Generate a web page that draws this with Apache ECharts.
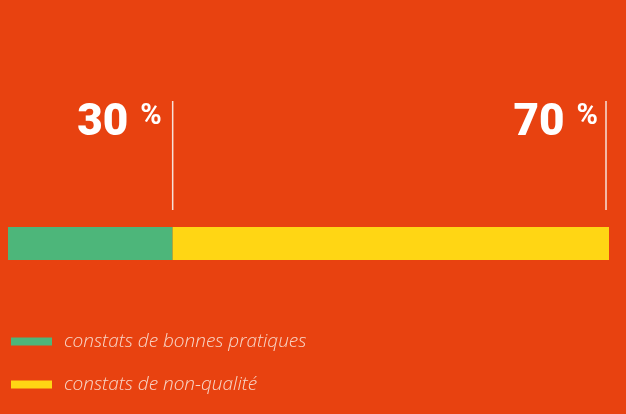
<!DOCTYPE html>
<html>
<head>
<meta charset="utf-8">
<script src="https://cdn.jsdelivr.net/npm/echarts@6/dist/echarts.min.js"></script>
<style>
html,body{margin:0;padding:0;background:#E84210;}
#c{width:626px;height:414px;}
</style>
</head>
<body>
<div id="c"></div>
<script>
const categories = ['constats de bonnes pratiques', 'constats de non-qualité'];
const barValues = [27.4, 72.6];
const labelTexts = ['30', '70'];
const colors = ['#4DB67A', '#FFD614'];

const cumulative = [];
let acc = 0;
for (const v of barValues) { acc += v; cumulative.push(acc); }

const chart = echarts.init(document.getElementById('c'));

const barSeries = categories.map((name, i) => ({
  name: name,
  type: 'bar',
  stack: 'total',
  xAxisIndex: 0,
  yAxisIndex: 0,
  barWidth: '100%',
  itemStyle: { color: colors[i] },
  data: [barValues[i]],
  silent: true
}));

const markerSeries = {
  type: 'custom',
  xAxisIndex: 1,
  yAxisIndex: 1,
  silent: true,
  data: cumulative.map((c, i) => [c, labelTexts[i]]),
  renderItem: function (params, api) {
    const v = api.value(0);
    const txt = labelTexts[params.dataIndex];
    const bottom = api.coord([v, 0]);
    const top = api.coord([v, 1]);
    const cs = params.coordSys;
    const lx = Math.min(bottom[0], cs.x + cs.width - 3);
    return {
      type: 'group',
      children: [
        {
          type: 'line',
          shape: { x1: lx, y1: top[1], x2: lx, y2: bottom[1] },
          style: { stroke: '#F7E1D8', lineWidth: 1.5 }
        },
        {
          type: 'text',
          x: bottom[0] - 11,
          y: top[1] + 23,
          style: {
            text: '{n|' + txt + '}{p|%}',
            align: 'right',
            verticalAlign: 'middle',
            rich: {
              n: { fontFamily: 'Roboto', fontWeight: 900, fontSize: 44, lineHeight: 44, fill: '#FFFFFF' },
              p: { fontFamily: 'Roboto', fontWeight: 'bold', fontSize: 29, lineHeight: 44, fill: '#FFFFFF', verticalAlign: 'top', padding: [0, 0, 0, 12] }
            }
          }
        }
      ]
    };
  }
};

chart.setOption({
  backgroundColor: '#E84210',
  animation: false,
  legend: {
    orient: 'vertical',
    left: 11,
    top: 332,
    padding: 0,
    icon: 'rect',
    itemWidth: 41,
    itemHeight: 8,
    itemGap: 24,
    selectedMode: false,
    data: categories,
    textStyle: {
      fontFamily: 'Open Sans',
      fontStyle: 'italic',
      fontWeight: 300,
      fontSize: 19,
      color: '#F8D6C8',
      padding: [0, 0, 0, 7]
    }
  },
  grid: [
    { left: 8, right: 17, top: 227, height: 33, containLabel: false },
    { left: 8, right: 17, top: 101, height: 109, containLabel: false }
  ],
  xAxis: [
    { type: 'value', gridIndex: 0, min: 0, max: 100, show: false },
    { type: 'value', gridIndex: 1, min: 0, max: 100, show: false }
  ],
  yAxis: [
    { type: 'category', gridIndex: 0, data: ['total'], show: false },
    { type: 'value', gridIndex: 1, min: 0, max: 1, show: false }
  ],
  series: barSeries.concat([markerSeries])
});
</script>
</body>
</html>
